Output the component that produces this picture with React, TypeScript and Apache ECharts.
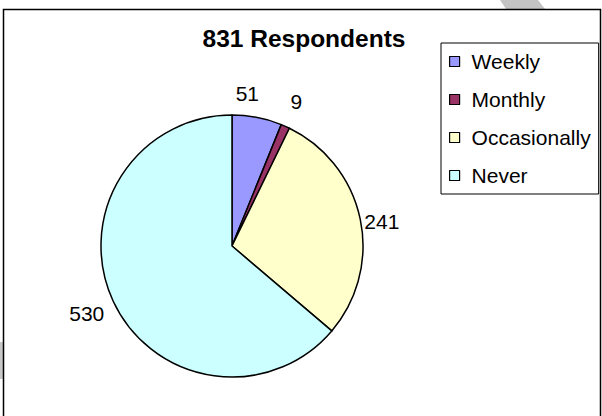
import React, { useEffect, useRef } from 'react';
import * as echarts from 'echarts';

const titleText = '831 Respondents';
const categories = ['Weekly', 'Monthly', 'Occasionally', 'Never'];
const counts = [51, 9, 241, 530];

// styling (not data)
const sliceColors = ['#9999FF', '#993366', '#FFFFCC', '#CCFFFF'];
const labelGaps = [22, 27, 21, 29];
const labelShiftX = [-14, 0, 1, 0];
const labelShiftY = [-2, 0, 7, 0];

export default function App() {
  const ref = useRef<HTMLDivElement>(null);

  useEffect(() => {
    const chart = echarts.init(ref.current!, null, { renderer: 'svg' });
    const font = '"Liberation Sans", Arial, Helvetica, sans-serif';

    const seriesData = categories.map((name, i) => ({
      name,
      value: counts[i],
      itemStyle: { color: sliceColors[i] },
      labelLine: { show: false, length: labelGaps[i], length2: 0 },
    }));

    chart.setOption({
      animation: false,
      backgroundColor: '#ffffff',
      title: {
        text: titleText,
        left: 304,
        top: 26,
        textAlign: 'center',
        padding: 0,
        textStyle: {
          fontFamily: font,
          fontSize: 24.5,
          fontWeight: 'bold',
          color: '#000',
        },
      },
      legend: {
        orient: 'vertical',
        left: 441,
        top: 43,
        padding: 8,
        itemGap: 17,
        itemWidth: 10,
        itemHeight: 10,
        icon: 'rect',
        borderColor: '#000',
        borderWidth: 1,
        backgroundColor: '#fff',
        selectedMode: false,
        itemStyle: { borderColor: '#000', borderWidth: 1.2 },
        textStyle: {
          fontFamily: font,
          fontSize: 21,
          color: '#000',
          padding: [0, 0, 0, 7],
        },
        data: categories,
      },
      graphic: [
        {
          type: 'polygon',
          z: 0,
          shape: { points: [[500, 0], [538, 0], [545, 9], [506, 9]] },
          style: { fill: '#c4c4c4' },
        },
        {
          type: 'rect',
          z: 0,
          shape: { x: 0, y: 342, width: 3, height: 37 },
          style: { fill: '#c8c8c8' },
        },
        {
          type: 'rect',
          z: 100,
          shape: { x: 3.5, y: 9.5, width: 597, height: 420 },
          style: { fill: 'none', stroke: '#000', lineWidth: 1.5 },
        },
      ],
      series: [
        {
          type: 'pie',
          center: [232, 246],
          radius: 131,
          startAngle: 90,
          clockwise: true,
          avoidLabelOverlap: false,
          itemStyle: { borderColor: '#000', borderWidth: 1.5 },
          emphasis: { disabled: true },
          label: {
            show: true,
            position: 'outside',
            formatter: '{c}',
            fontFamily: font,
            fontSize: 21,
            color: '#000',
            distanceToLabelLine: 0,
          },
          labelLine: { show: false, length2: 0 },
          labelLayout: (params: any) => ({
            align: 'center',
            verticalAlign: 'middle',
            dx: labelShiftX[params.dataIndex] || 0,
            dy: labelShiftY[params.dataIndex] || 0,
          }),
          data: seriesData,
        },
      ],
    });

    return () => chart.dispose();
  }, []);

  return (
    <div
      ref={ref}
      style={{ position: 'fixed', left: 0, top: 0, width: 602, height: 416 }}
    />
  );
}
